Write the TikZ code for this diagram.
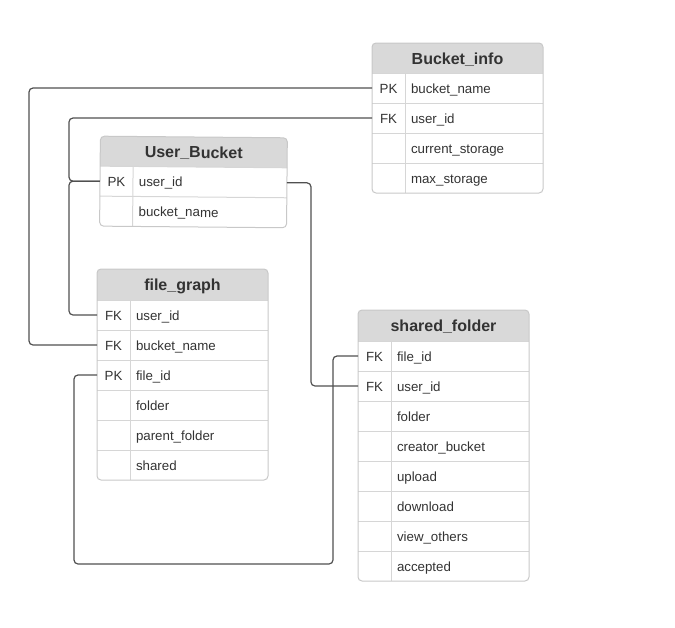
\documentclass[tikz,border=0pt]{standalone}
\usepackage{fontspec}
\setmainfont{Liberation Sans}
\usetikzlibrary{positioning}
\definecolor{hdrgray}{HTML}{D9D9D9}
\definecolor{gridgray}{HTML}{C8C8C8}
\definecolor{txtgray}{HTML}{333333}
\definecolor{linkgray}{HTML}{505050}
\tikzset{
  hdrbox/.style={minimum width=#1, minimum height=31pt, inner sep=0pt, outer sep=0pt},
  hdrbox/.default=171pt,
  rowbox/.style={minimum width=#1, minimum height=30pt, inner sep=0pt, outer sep=0pt},
  rowbox/.default=171pt,
  ttl/.style={font=\fontsize{16}{18}\selectfont\bfseries, text=txtgray, text height=14pt, text depth=2pt, inner sep=0pt},
  key/.style={minimum width=33pt, minimum height=30pt, inner sep=0pt, outer sep=0pt, font=\fontsize{13.3}{15}\selectfont, text=txtgray, text height=12.5pt, text depth=2.5pt},
  fld/.style={inner sep=0pt, outer sep=0pt, font=\fontsize{13.3}{15}\selectfont, text=txtgray, text height=12.5pt, text depth=2.5pt},
  frame/.style={draw=gridgray, line width=1pt, rounded corners=4pt},
  sep/.style={draw=gridgray!75, line width=1pt},
  link/.style={draw=linkgray, line width=1.2pt, rounded corners=4pt},
}
\begin{document}
\begin{tikzpicture}[x=1pt,y=-1pt]
	\useasboundingbox (0,0) rectangle (675,627);
	% Bucket_info
	\node[hdrbox, minimum height=30pt] (bi) at (457.5,58) {};
	\node[rowbox, below=0pt of bi] (bi-1) {};
	\node[rowbox, below=0pt of bi-1] (bi-2) {};
	\node[rowbox, below=0pt of bi-2] (bi-3) {};
	\node[rowbox, below=0pt of bi-3] (bi-4) {};
	\begin{scope}
		\clip[rounded corners=4pt] (bi.north west) rectangle (bi-4.south east);
		\fill[hdrgray] (bi.north west) rectangle (bi.south east);
	\end{scope}
	\node[ttl] (bi-t) at (bi) {Bucket\_info};
	\node[key, right=0pt of bi-1.west] (bi-1k) {PK};
	\node[fld, right=6pt of bi-1k] (bi-1f) {bucket\_name};
	\node[key, right=0pt of bi-2.west] (bi-2k) {FK};
	\node[fld, right=6pt of bi-2k] (bi-2f) {user\_id};
	\node[key, right=0pt of bi-3.west] (bi-3k) {};
	\node[fld, right=6pt of bi-3k] (bi-3f) {current\_storage};
	\node[key, right=0pt of bi-4.west] (bi-4k) {};
	\node[fld, right=6pt of bi-4k] (bi-4f) {max\_storage};
	\draw[sep] (bi-1.north west) -- (bi-1.north east);
	\draw[sep] (bi-2.north west) -- (bi-2.north east);
	\draw[sep] (bi-3.north west) -- (bi-3.north east);
	\draw[sep] (bi-4.north west) -- (bi-4.north east);
	\draw[sep] (bi-1k.north east) -- (bi-4k.south east);
	\draw[frame] (bi.north west) rectangle (bi-4.south east);
	% User_Bucket (sits a little askew)
	\begin{scope}[rotate around={-0.5:(193.5,182)}, transform shape]
		\node[hdrbox=187pt, minimum height=30pt] (ub) at (193.5,152) {};
		\node[rowbox=187pt, below=0pt of ub] (ub-1) {};
		\node[rowbox=187pt, below=0pt of ub-1] (ub-2) {};
		\begin{scope}
			\clip[rounded corners=4pt] (ub.north west) rectangle (ub-2.south east);
			\fill[hdrgray] (ub.north west) rectangle (ub.south east);
		\end{scope}
		\node[ttl] (ub-t) at (ub) {User\_Bucket};
		\node[key, right=0pt of ub-1.west] (ub-1k) {PK};
		\node[fld, right=6pt of ub-1k] (ub-1f) {user\_id};
		\node[key, right=0pt of ub-2.west] (ub-2k) {};
		\node[fld, right=6pt of ub-2k] (ub-2f) {bucket\_name};
		\draw[sep] (ub-1.north west) -- (ub-1.north east);
		\draw[sep] (ub-2.north west) -- (ub-2.north east);
		\draw[sep] (ub-1k.north east) -- (ub-2k.south east);
		\draw[frame] (ub.north west) rectangle (ub-2.south east);
	\end{scope}
	% file_graph
	\node[hdrbox] (fg) at (182.5,284.5) {};
	\node[rowbox, below=0pt of fg] (fg-1) {};
	\node[rowbox, below=0pt of fg-1] (fg-2) {};
	\node[rowbox, below=0pt of fg-2] (fg-3) {};
	\node[rowbox, below=0pt of fg-3] (fg-4) {};
	\node[rowbox, below=0pt of fg-4] (fg-5) {};
	\node[rowbox, below=0pt of fg-5] (fg-6) {};
	\begin{scope}
		\clip[rounded corners=4pt] (fg.north west) rectangle (fg-6.south east);
		\fill[hdrgray] (fg.north west) rectangle (fg.south east);
	\end{scope}
	\node[ttl] (fg-t) at (fg) {file\_graph};
	\node[key, right=0pt of fg-1.west] (fg-1k) {FK};
	\node[fld, right=6pt of fg-1k] (fg-1f) {user\_id};
	\node[key, right=0pt of fg-2.west] (fg-2k) {FK};
	\node[fld, right=6pt of fg-2k] (fg-2f) {bucket\_name};
	\node[key, right=0pt of fg-3.west] (fg-3k) {PK};
	\node[fld, right=6pt of fg-3k] (fg-3f) {file\_id};
	\node[key, right=0pt of fg-4.west] (fg-4k) {};
	\node[fld, right=6pt of fg-4k] (fg-4f) {folder};
	\node[key, right=0pt of fg-5.west] (fg-5k) {};
	\node[fld, right=6pt of fg-5k] (fg-5f) {parent\_folder};
	\node[key, right=0pt of fg-6.west] (fg-6k) {};
	\node[fld, right=6pt of fg-6k] (fg-6f) {shared};
	\draw[sep] (fg-1.north west) -- (fg-1.north east);
	\draw[sep] (fg-2.north west) -- (fg-2.north east);
	\draw[sep] (fg-3.north west) -- (fg-3.north east);
	\draw[sep] (fg-4.north west) -- (fg-4.north east);
	\draw[sep] (fg-5.north west) -- (fg-5.north east);
	\draw[sep] (fg-6.north west) -- (fg-6.north east);
	\draw[sep] (fg-1k.north east) -- (fg-6k.south east);
	\draw[frame] (fg.north west) rectangle (fg-6.south east);
	% shared_folder
	\node[hdrbox] (sf) at (443.5,325.5) {};
	\node[rowbox, below=0pt of sf] (sf-1) {};
	\node[rowbox, below=0pt of sf-1] (sf-2) {};
	\node[rowbox, below=0pt of sf-2] (sf-3) {};
	\node[rowbox, below=0pt of sf-3] (sf-4) {};
	\node[rowbox, below=0pt of sf-4] (sf-5) {};
	\node[rowbox, below=0pt of sf-5] (sf-6) {};
	\node[rowbox, below=0pt of sf-6] (sf-7) {};
	\node[rowbox, below=0pt of sf-7] (sf-8) {};
	\begin{scope}
		\clip[rounded corners=4pt] (sf.north west) rectangle (sf-8.south east);
		\fill[hdrgray] (sf.north west) rectangle (sf.south east);
	\end{scope}
	\node[ttl] (sf-t) at (sf) {shared\_folder};
	\node[key, right=0pt of sf-1.west] (sf-1k) {FK};
	\node[fld, right=6pt of sf-1k] (sf-1f) {file\_id};
	\node[key, right=0pt of sf-2.west] (sf-2k) {FK};
	\node[fld, right=6pt of sf-2k] (sf-2f) {user\_id};
	\node[key, right=0pt of sf-3.west] (sf-3k) {};
	\node[fld, right=6pt of sf-3k] (sf-3f) {folder};
	\node[key, right=0pt of sf-4.west] (sf-4k) {};
	\node[fld, right=6pt of sf-4k] (sf-4f) {creator\_bucket};
	\node[key, right=0pt of sf-5.west] (sf-5k) {};
	\node[fld, right=6pt of sf-5k] (sf-5f) {upload};
	\node[key, right=0pt of sf-6.west] (sf-6k) {};
	\node[fld, right=6pt of sf-6k] (sf-6f) {download};
	\node[key, right=0pt of sf-7.west] (sf-7k) {};
	\node[fld, right=6pt of sf-7k] (sf-7f) {view\_others};
	\node[key, right=0pt of sf-8.west] (sf-8k) {};
	\node[fld, right=6pt of sf-8k] (sf-8f) {accepted};
	\draw[sep] (sf-1.north west) -- (sf-1.north east);
	\draw[sep] (sf-2.north west) -- (sf-2.north east);
	\draw[sep] (sf-3.north west) -- (sf-3.north east);
	\draw[sep] (sf-4.north west) -- (sf-4.north east);
	\draw[sep] (sf-5.north west) -- (sf-5.north east);
	\draw[sep] (sf-6.north west) -- (sf-6.north east);
	\draw[sep] (sf-7.north west) -- (sf-7.north east);
	\draw[sep] (sf-8.north west) -- (sf-8.north east);
	\draw[sep] (sf-1k.north east) -- (sf-8k.south east);
	\draw[frame] (sf.north west) rectangle (sf-8.south east);
	% relations
	\draw[link] (bi-1.west) -| ([xshift=-68pt]fg-2.west) -- (fg-2.west);
	\draw[link] (ub-1.west) -- ++(-31,0) |- (bi-2.west);
	\draw[link] (ub-1.west) -- ++(-31,0) |- (fg-1.west);
	\draw[link] (ub-1.east) -- ++(24,0) |- (sf-2.west);
	\draw[link] (fg-3.west) -- ++(-23,0) -- ++(0,189) -| ([xshift=-25pt]sf-1.west) -- (sf-1.west);
\end{tikzpicture}
\end{document}
